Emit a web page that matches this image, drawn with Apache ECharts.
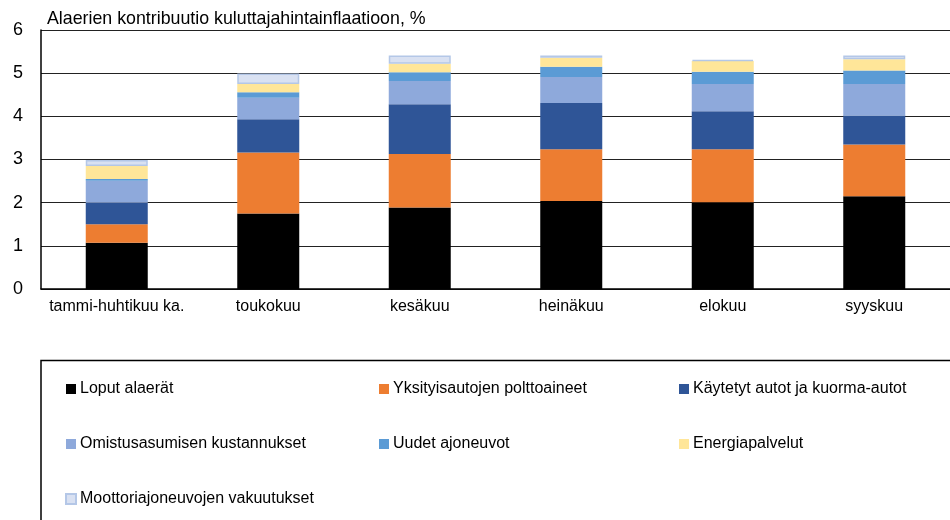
<!DOCTYPE html>
<html>
<head>
<meta charset="utf-8">
<script src="https://cdn.jsdelivr.net/npm/echarts@6/dist/echarts.min.js"></script>
<style>
  html, body { margin: 0; padding: 0; background: #fff; }
  #chart { width: 950px; height: 520px; }
</style>
</head>
<body>
<div id="chart"></div>
<script>
// kategoriat
const months = ['tammi-huhtikuu ka.', 'toukokuu', 'kesäkuu', 'heinäkuu', 'elokuu', 'syyskuu']

// alaerien kontribuutiot, %-yks.
const loput = [1.07, 1.75, 1.89, 2.04, 2.01, 2.15]
const polttoaineet = [0.43, 1.41, 1.24, 1.20, 1.23, 1.20]
const kaytetyt = [0.50, 0.77, 1.15, 1.07, 0.88, 0.67]
const omistus = [0.51, 0.50, 0.54, 0.60, 0.63, 0.73]
const uudet = [0.04, 0.13, 0.20, 0.24, 0.28, 0.31]
const energia = [0.30, 0.19, 0.20, 0.21, 0.25, 0.26]
const vakuutus = [0.14, 0.24, 0.19, 0.05, 0.03, 0.09]

const yTicks = [0, 1, 2, 3, 4, 5, 6]

const fontFam = 'Liberation Sans, Arial, sans-serif'

function bar(name, data, color, border) {
  return {
    name: name,
    type: 'bar',
    stack: 'total',
    barWidth: 62,
    data: data,
    itemStyle: {
      color: color,
      borderColor: border || color,
      borderWidth: border ? 1.5 : 0
    }
  }
}

const legendBase = {
  orient: 'vertical',
  itemWidth: 10,
  itemHeight: 10,
  itemGap: 39,
  icon: 'rect',
  textStyle: { fontFamily: fontFam, fontSize: 16, color: '#000', padding: [0, 0, 0, -1] }
}

const chart = echarts.init(document.getElementById('chart'))
chart.setOption({
  animation: false,
  title: {
    text: 'Alaerien kontribuutio kuluttajahintainflaatioon, %',
    left: 42,
    top: 5,
    textStyle: { fontFamily: fontFam, fontSize: 17.8, fontWeight: 'normal', color: '#000' }
  },
  grid: { left: 41, top: 30, right: -2, bottom: 231, containLabel: false },
  xAxis: {
    type: 'category',
    data: months,
    axisLine: { lineStyle: { color: '#000', width: 1.5 } },
    axisTick: { show: false },
    axisLabel: { interval: 0, fontFamily: fontFam, fontSize: 16, color: '#000', margin: 10 }
  },
  yAxis: {
    type: 'value',
    min: yTicks[0],
    max: yTicks[yTicks.length - 1],
    interval: 1,
    axisLine: { show: true, lineStyle: { color: '#000', width: 1.5 } },
    axisTick: { show: false },
    splitLine: { lineStyle: { color: '#222', width: 1.2 } },
    axisLabel: { fontFamily: fontFam, fontSize: 18, color: '#000', margin: 18 }
  },
  legend: [
    Object.assign({}, legendBase, {
      left: 60, top: 376,
      data: ['Loput alaerät', 'Omistusasumisen kustannukset', 'Moottoriajoneuvojen vakuutukset']
    }),
    Object.assign({}, legendBase, {
      left: 374, top: 376,
      data: ['Yksityisautojen polttoaineet', 'Uudet ajoneuvot']
    }),
    Object.assign({}, legendBase, {
      left: 674, top: 376,
      data: ['Käytetyt autot ja kuorma-autot', 'Energiapalvelut']
    })
  ],
  graphic: [{
    type: 'rect',
    shape: { x: 41, y: 360.5, width: 930, height: 200 },
    style: { fill: 'none', stroke: '#000', lineWidth: 1.5 },
    silent: true
  }],
  series: [
    bar('Loput alaerät', loput, '#000000'),
    bar('Yksityisautojen polttoaineet', polttoaineet, '#ED7D31'),
    bar('Käytetyt autot ja kuorma-autot', kaytetyt, '#2F5597'),
    bar('Omistusasumisen kustannukset', omistus, '#8EA9DB'),
    bar('Uudet ajoneuvot', uudet, '#5B9BD5'),
    bar('Energiapalvelut', energia, '#FFE699'),
    bar('Moottoriajoneuvojen vakuutukset', vakuutus, '#D9E1F2', '#B4C7E7')
  ]
})
</script>
</body>
</html>
